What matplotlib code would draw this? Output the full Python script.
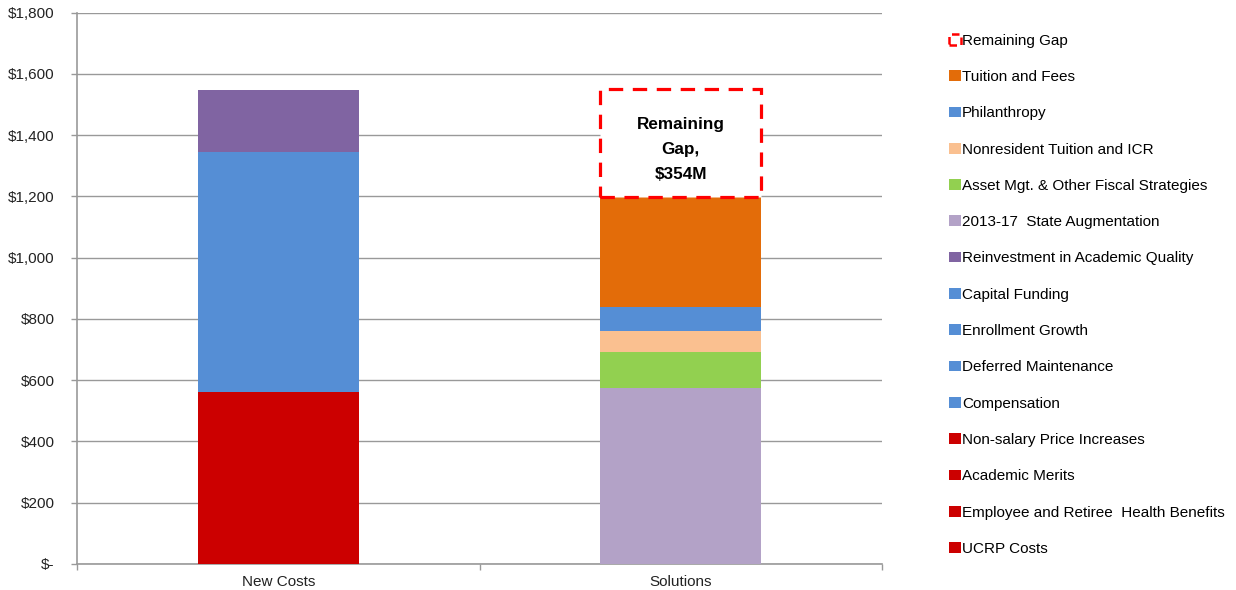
import matplotlib
matplotlib.use("Agg")
import matplotlib.pyplot as plt
from matplotlib.patches import Patch
from matplotlib.ticker import FuncFormatter, FixedLocator

plt.rcParams["font.family"] = ["Liberation Sans", "DejaVu Sans"]

# ---- data (values in $M) ----
categories = ["New Costs", "Solutions"]
series_names = [
    "UCRP Costs",
    "Employee and Retiree  Health Benefits",
    "Academic Merits",
    "Non-salary Price Increases",
    "Compensation",
    "Deferred Maintenance",
    "Enrollment Growth",
    "Capital Funding",
    "Reinvestment in Academic Quality",
    "2013-17  State Augmentation",
    "Asset Mgt. & Other Fiscal Strategies",
    "Nonresident Tuition and ICR",
    "Philanthropy",
    "Tuition and Fees",
]
new_costs = [279, 96, 92, 95, 520, 100, 100, 64, 202, 0, 0, 0, 0, 0]
solutions = [0, 0, 0, 0, 0, 0, 0, 0, 0, 576, 117, 68, 77, 359]
series_colors = ["#CC0000", "#CC0000", "#CC0000", "#CC0000",
                 "#558ED5", "#558ED5", "#558ED5", "#558ED5",
                 "#8064A2", "#B3A2C7", "#92D050", "#FAC090",
                 "#558ED5", "#E36C09"]
gap_value = 354
gap_label = "Remaining Gap"

fig = plt.figure(figsize=(12.36, 5.90), dpi=100)
ax = fig.add_axes([0.0623, 0.0441, 0.6513, 0.9347])

x = list(range(len(categories)))
width = 0.40
bottoms = [0.0, 0.0]
handles = []
for name, a, b, col in zip(series_names, new_costs, solutions, series_colors):
    ax.bar(x, [a, b], width, bottom=bottoms, color=col, linewidth=0, zorder=3)
    bottoms = [bottoms[0] + a, bottoms[1] + b]
    handles.append(Patch(facecolor=col, edgecolor="none", label=name))

# remaining gap as dashed, unfilled segment on the Solutions bar
ax.bar([1], [gap_value], width, bottom=[bottoms[1]], facecolor="white",
       edgecolor="#FF0000", linewidth=2.3, linestyle=(0, (4.5, 3)), zorder=4)
ax.text(1, bottoms[1] + gap_value * 0.44, f"Remaining\nGap,\n${gap_value}M",
        ha="center", va="center", fontsize=12.3, fontweight="bold",
        linespacing=1.85, zorder=5)
handles.append(Patch(facecolor="white", edgecolor="#FF0000", linewidth=1.8,
                     linestyle=(0, (3, 2)), label=gap_label))

# ---- axes styling (Excel look) ----
ax.set_xlim(-0.5, 1.5)
ax.set_ylim(0, 1800)
ax.yaxis.set_major_locator(FixedLocator(range(0, 1801, 200)))
ax.yaxis.set_major_formatter(FuncFormatter(
    lambda v, _: "$-" if v == 0 else f"${v:,.0f}"))
ax.set_xticks(x)
ax.set_xticklabels(categories)
ax.xaxis.set_minor_locator(FixedLocator([-0.5, 0.5, 1.5]))
ax.tick_params(axis="x", which="major", length=0, pad=8, labelsize=11,
               colors="#222222")
ax.tick_params(axis="x", which="minor", length=4, width=1, color="#999999")
ax.tick_params(axis="y", length=4, width=1, color="#999999", labelsize=11,
               labelcolor="#222222", pad=12)
ax.grid(axis="y", color="#999999", linewidth=1, zorder=0)
for s in ["top", "right"]:
    ax.spines[s].set_visible(False)
for s in ["left", "bottom"]:
    ax.spines[s].set_color("#999999")
    ax.spines[s].set_linewidth(1.2)

# legend lists series top of stack first
fig.legend(handles=handles[::-1], loc="upper left",
           bbox_to_anchor=(0.768, 0.943), frameon=False, fontsize=11,
           handlelength=0.75, handleheight=0.7, handletextpad=0.1,
           labelspacing=1.46, borderpad=0, borderaxespad=0)

fig.savefig("out.png", dpi=100)
